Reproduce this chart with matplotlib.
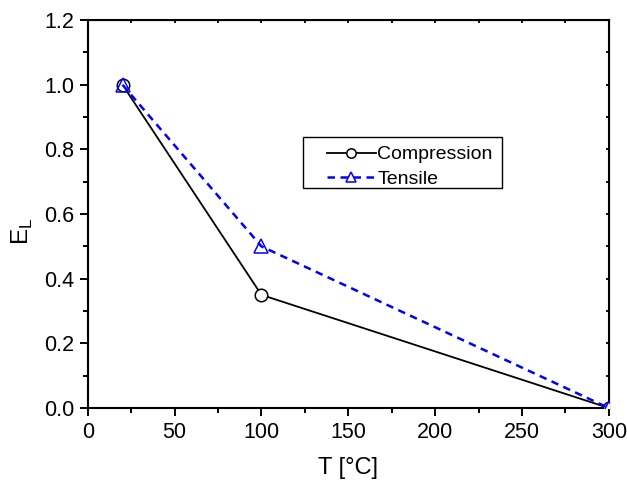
import matplotlib.pyplot as plt
from matplotlib.ticker import MultipleLocator
from matplotlib.patches import Rectangle

plt.rcParams['font.family'] = ['Liberation Sans', 'DejaVu Sans']

T = [20, 100, 300]
compression = [1.0, 0.35, 0.0]
tensile = [1.0, 0.5, 0.0]

fig = plt.figure(figsize=(6.27, 4.8), dpi=100)
ax = fig.add_axes([0.140, 0.150, 0.831, 0.808])

ax.plot(T, compression, color='black', lw=1.3, marker='o', ms=9,
        mfc='white', mec='black', mew=1.1, label='Compression', zorder=3)
ax.plot(T, tensile, color='blue', lw=1.8, ls=(0, (3, 2.2)), marker='^', ms=10,
        mfc='none', mec='blue', mew=1.1, label='Tensile', zorder=4)

ax.set_xlim(0, 300)
ax.set_ylim(0, 1.2)
ax.xaxis.set_major_locator(MultipleLocator(50))
ax.xaxis.set_minor_locator(MultipleLocator(25))
ax.yaxis.set_major_locator(MultipleLocator(0.2))
ax.yaxis.set_minor_locator(MultipleLocator(0.1))
ax.yaxis.set_major_formatter(plt.FuncFormatter(lambda v, p: f'{v:.1f}'))

for s in ax.spines.values():
    s.set_linewidth(1.5)

ax.tick_params(which='major', direction='out', length=6, width=1.4, labelsize=15.5,
               top=False, right=False, pad=4)
ax.tick_params(which='minor', direction='out', length=3.5, width=1.4)

# tiny ticks on the top and right edges
ax2 = ax.secondary_xaxis('top')
ax2.xaxis.set_major_locator(MultipleLocator(25))
ax2.tick_params(direction='in', length=2, width=1.3, labeltop=False)
ax3 = ax.secondary_yaxis('right')
ax3.yaxis.set_major_locator(MultipleLocator(0.1))
ax3.tick_params(direction='in', length=2, width=1.3, labelright=False)

ax.set_xlabel('T [°C]', fontsize=17)
ax.xaxis.set_label_coords(0.5, -0.126)
ax.set_ylabel('E$_\\mathregular{L}$', fontsize=17.5)
ax.yaxis.set_label_coords(-0.125, 0.456)
ax.yaxis.label.set_rotation_mode('default')
ax.yaxis.label.set_va('center')
ax.yaxis.label.set_ha('center')

# legend box (Origin style, wide left margin)
ax.add_patch(Rectangle((0.413, 0.567), 0.382, 0.131, transform=ax.transAxes,
                       fill=True, fc='white', ec='black', lw=1.0, zorder=5))
leg = ax.legend(loc='upper left', bbox_to_anchor=(0.459, 0.676), fontsize=14,
                frameon=False, handlelength=2.5, handletextpad=0.1, borderpad=0,
                labelspacing=0.35, borderaxespad=0, markerscale=0.75)
leg.set_zorder(6)

fig.savefig('out.png', dpi=100)
